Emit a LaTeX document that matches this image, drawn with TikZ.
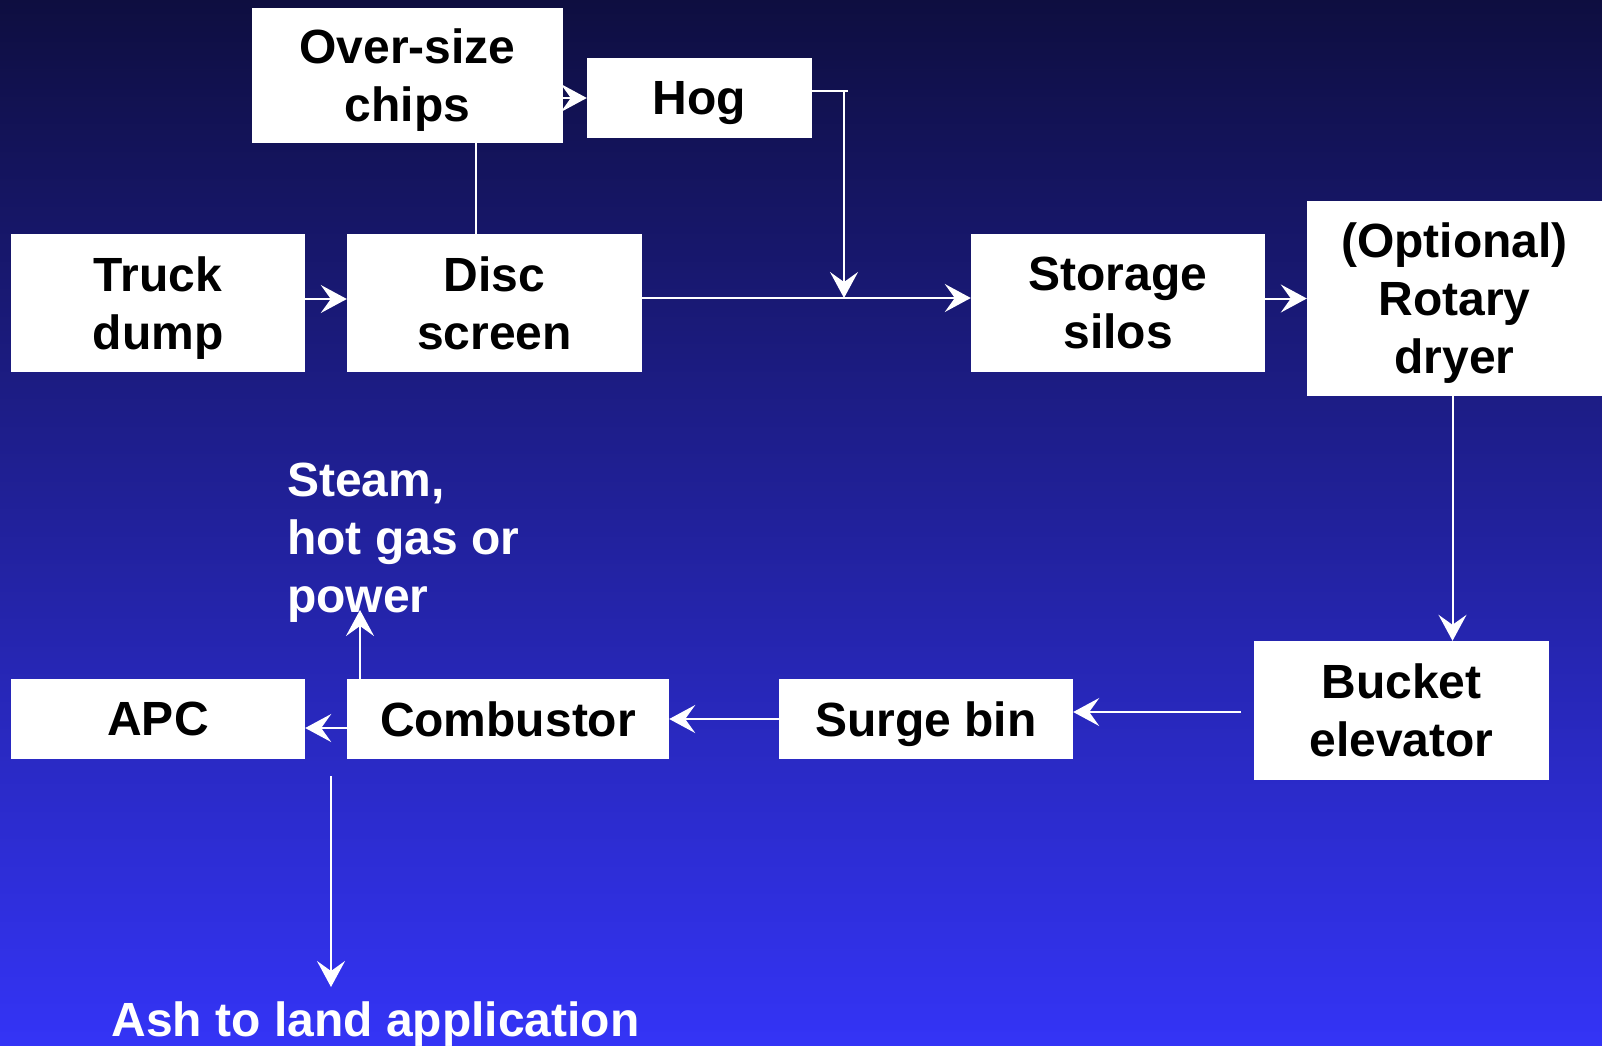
\documentclass[tikz,border=0pt]{standalone}
\usepackage{fontspec}
\setmainfont{Liberation Sans}
\usetikzlibrary{arrows.meta,calc}
\definecolor{bgtop}{RGB}{14,14,64}
\definecolor{bgbot}{RGB}{52,52,246}
\newcommand\zdp[1]{\raisebox{0pt}[\height][0pt]{#1}}
\begin{document}
\begin{tikzpicture}[x=1pt,y=-1pt,
  box/.style={fill=white,draw=none,inner sep=0pt,align=center,text=black,
    font=\bfseries\fontsize{48}{58}\selectfont},
  lbl/.style={inner sep=0pt,text=white,font=\bfseries\fontsize{48}{58}\selectfont},
  conn/.style={draw=white,line width=2pt},
  arr/.style={conn,-{Stealth[length=26pt,width=28pt,inset=10pt]}}]
\shade[top color=bgtop,bottom color=bgbot] (0,0) rectangle (1602,1045);
\useasboundingbox (0,0) rectangle (1602,1045);
% boxes
\node[box,minimum width=311pt,minimum height=135pt] (chips) at (407.5,75.5) {Over-size\\\zdp{chips}};
\node[box,minimum width=225pt,minimum height=80pt] (hog) at (699.5,98) {\zdp{Hog}};
\node[box,minimum width=294pt,minimum height=138pt] (truck) at (158,303) {Truck\\\zdp{dump}};
\node[box,minimum width=295pt,minimum height=138pt] (disc) at (494.5,303) {Disc\\screen};
\node[box,minimum width=294pt,minimum height=138pt] (storage) at (1118,303) {Storage\\silos};
\node[box,minimum width=295pt,minimum height=195pt] (dryer) at (1454.5,298.5) {(Optional)\\Rotary\\\zdp{dryer}};
\node[box,minimum width=295pt,minimum height=139pt] (bucket) at (1401.5,710.5) {Bucket\\elevator};
\node[box,minimum width=294pt,minimum height=80pt] (surge) at (926,719) {\zdp{Surge bin}};
\node[box,minimum width=322pt,minimum height=80pt] (comb) at (508,719) {Combustor};
\node[box,minimum width=294pt,minimum height=80pt] (apc) at (158,719) {APC};
% labels
\node[lbl,anchor=west,align=left] (steam) at (287,543) {Steam,\\hot gas or\\power};
\node[lbl,anchor=base] (ash) at (375.5,1036) {Ash to land application};
% coordinates
\coordinate (xline) at (476,0);
\coordinate (hj) at (844,91);
\coordinate (hje) at (848,91);
\coordinate (mj) at (844,298);
\coordinate (bs) at (1241,712);
\coordinate (st) at (360,610);
\coordinate (a1) at (331,776);
\coordinate (a2) at (331,987);
% connectors
\draw[arr] ([yshift=4pt]truck.east) -- ([yshift=4pt]disc.west);
\draw[conn] (disc.north -| xline) -- (chips.south -| xline);
\draw[arr] (chips.east |- hog.west) -- (hog.west);
\draw[conn] (hog.east |- hj) -- (hje);
\draw[arr] (hj) -- (mj);
\draw[arr] ([yshift=5pt]disc.east) -- ([yshift=5pt]storage.west);
\draw[arr] (storage.east |- dryer.west) -- (dryer.west);
\draw[arr] ([xshift=-2pt]dryer.south) -- ([xshift=-2pt]dryer.south |- bucket.north);
\draw[arr] (bs) -- (surge.east |- bs);
\draw[arr] (surge.west) -- (comb.east);
\draw[arr] ([yshift=-9pt]comb.west) -- ([yshift=-9pt]apc.east);
\draw[arr] (comb.north -| st) -- (st);
\draw[arr] (a1) -- (a2);
\end{tikzpicture}
\end{document}
